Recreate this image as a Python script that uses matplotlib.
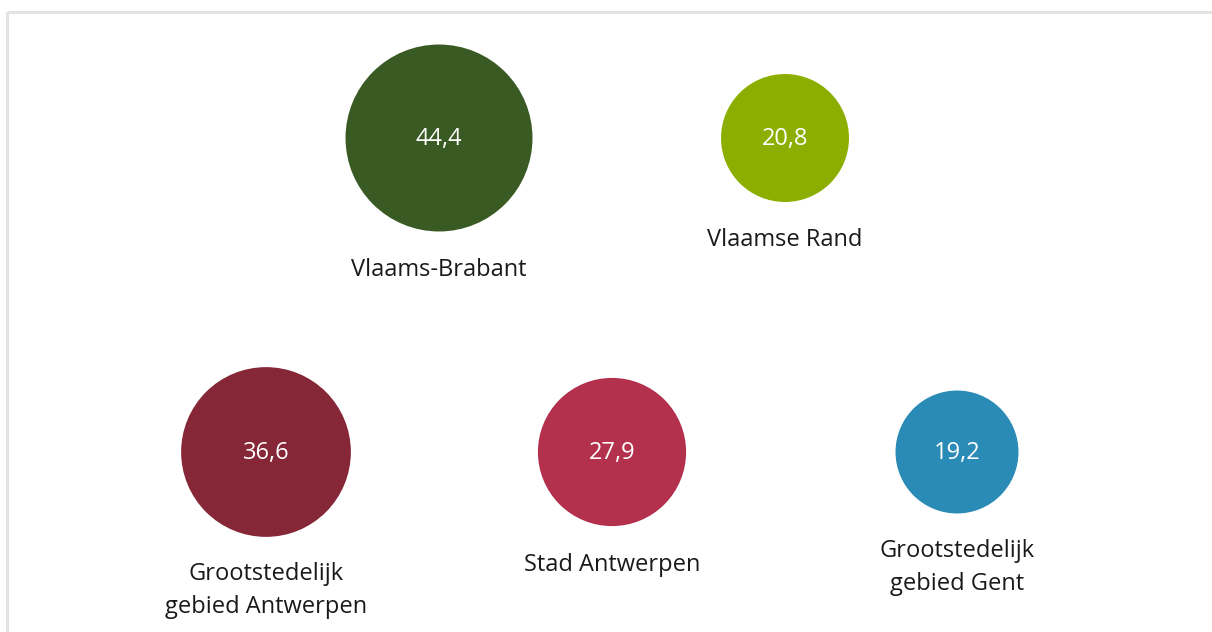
import matplotlib
matplotlib.use("Agg")
import matplotlib.pyplot as plt
import numpy as np

# values per region
regions = ["Vlaams-Brabant", "Vlaamse Rand", "Grootstedelijk\ngebied Antwerpen",
           "Stad Antwerpen", "Grootstedelijk\ngebied Gent"]
values = [44.4, 20.8, 36.6, 27.9, 19.2]
colors = ["#3a5a24", "#8cae00", "#862738", "#b3314c", "#2a8bb6"]

# layout (pixel coords)
xs = [439, 785, 266, 612, 957]
ys = [138, 138, 452, 452, 452]

plt.rcParams['font.family'] = ['Open Sans', 'DejaVu Sans']

fig = plt.figure(figsize=(12.12, 6.32), dpi=100)
ax = fig.add_axes([0, 0, 1, 1])
ax.set_xlim(0, 1212)
ax.set_ylim(632, 0)
ax.axis('off')

# frame lines top and left
ax.plot([6.5, 1212], [11.5, 11.5], color='#e3e3e3', lw=2.2, solid_capstyle='butt')
ax.plot([6.5, 6.5], [11.5, 632], color='#e3e3e3', lw=2.2, solid_capstyle='butt')

# radius in px = k * sqrt(value)
k = 14.03
px_to_pt = 72 / 100
sizes = [(2 * k * np.sqrt(v) * px_to_pt) ** 2 for v in values]
ax.scatter(xs, ys, s=sizes, c=colors, linewidths=0, zorder=2)

line_gap = 31
for x, y, v, name in zip(xs, ys, values, regions):
    r = k * np.sqrt(v)
    ax.text(x, y + 1, f"{v:.1f}".replace('.', ','), color='white', fontsize=17,
            ha='center', va='center', zorder=3)
    n_lines = name.count('\n') + 1
    ly = y + r + 38.5 + (n_lines - 1) * line_gap / 2
    ax.text(x, ly, name, color='#1a1a1a', fontsize=17, ha='center',
            va='center', linespacing=1.5)

fig.savefig("out.png", dpi=100)
